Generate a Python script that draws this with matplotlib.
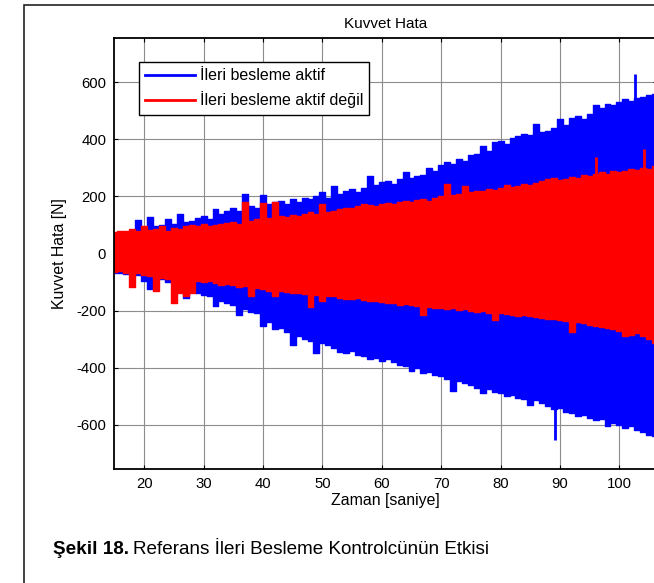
import matplotlib
matplotlib.use("Agg")
import matplotlib.pyplot as plt
from matplotlib.patches import Rectangle

plt.rcParams["font.family"] = ["Liberation Sans", "DejaVu Sans"]
plt.rcParams["axes.unicode_minus"] = False

# time axis [s], one envelope sample per second
zaman = list(range(15, 107))

# "İleri besleme aktif" envelope (upper / lower peaks) [N]
aktif_ust = [72, 75, 70, 80, 118, 85, 128, 95, 100, 120, 105, 138, 110, 115, 125, 130,
             120, 155, 140, 150, 160, 150, 210, 165, 160, 205, 175, 180, 185, 175, 190,
             180, 195, 190, 200, 215, 195, 235, 210, 220, 225, 215, 230, 270, 240, 250,
             255, 245, 260, 285, 265, 270, 275, 300, 290, 310, 320, 315, 330, 325, 345,
             350, 375, 360, 390, 395, 385, 405, 410, 420, 415, 455, 425, 430, 440, 470,
             450, 475, 480, 470, 490, 520, 510, 525, 520, 530, 540, 535, 545, 550, 555, 560]
aktif_alt = [-70, -68, -72, -65, -75, -95, -125, -85, -90, -100, -105, -95, -155, -130,
             -140, -145, -150, -185, -165, -175, -180, -215, -195, -205, -210, -255, -240,
             -265, -260, -275, -320, -290, -300, -305, -350, -315, -320, -330, -345, -350,
             -340, -355, -360, -370, -365, -375, -370, -380, -390, -395, -410, -400, -420,
             -415, -425, -430, -440, -480, -445, -455, -460, -470, -490, -475, -485, -490,
             -500, -495, -505, -510, -530, -515, -525, -535, -545, -540, -555, -560, -570,
             -565, -575, -585, -580, -605, -595, -600, -610, -605, -620, -625, -635, -640]

# "İleri besleme aktif değil" envelope (upper / lower peaks) [N]
pasif_ust = [75, 78, 80, 85, 78, 97, 82, 85, 95, 80, 90, 85, 95, 100, 95, 105, 98, 100,
             105, 108, 110, 105, 180, 115, 120, 178, 125, 180, 130, 128, 135, 130, 140,
             145, 138, 175, 145, 150, 155, 160, 158, 165, 175, 170, 168, 175, 178, 172,
             180, 185, 182, 188, 190, 185, 195, 200, 245, 205, 210, 235, 215, 220, 218,
             225, 222, 230, 240, 232, 238, 245, 240, 248, 255, 260, 265, 258, 262, 268,
             265, 275, 270, 280, 285, 280, 290, 285, 290, 295, 292, 300, 295, 305]
pasif_alt = [-65, -62, -70, -117, -68, -75, -80, -130, -85, -88, -175, -140, -150, -140,
             -95, -100, -98, -105, -110, -108, -112, -118, -115, -150, -120, -125, -130,
             -150, -132, -135, -140, -138, -142, -186, -145, -165, -150, -148, -155, -158,
             -160, -155, -162, -165, -168, -170, -175, -172, -180, -178, -182, -185, -215,
             -188, -190, -192, -195, -190, -198, -195, -200, -205, -202, -208, -233, -210,
             -212, -215, -218, -215, -220, -222, -225, -228, -230, -232, -235, -274, -240,
             -245, -250, -255, -258, -262, -265, -270, -290, -285, -280, -290, -300, -315]

# isolated single peaks: (time, value)
aktif_tepe_t = [102.7, 89.1]
aktif_tepe_v = [629, -653]
pasif_tepe_t = [96.1, 104.2]
pasif_tepe_v = [338, 367]

x_ticks = [20, 30, 40, 50, 60, 70, 80, 90, 100]
y_ticks = [-600, -400, -200, 0, 200, 400, 600]

W, H = 654, 583
fig = plt.figure(figsize=(W / 100, H / 100), dpi=100)

# outer figure frame
fig.patches.append(Rectangle((24 / W, -0.05), 1.1, 1 - 5 / H + 0.05, transform=fig.transFigure,
                             fill=False, edgecolor="#222222", linewidth=1.2))

ax_left, ax_right = 114.5, 657.0
ax_top, ax_bot = 38.0, 469.0
ax = fig.add_axes([ax_left / W, 1 - ax_bot / H, (ax_right - ax_left) / W, (ax_bot - ax_top) / H])

blue = "#0000ff"
red = "#ff0000"
ax.fill_between(zaman, aktif_alt, aktif_ust, step="mid", color=blue, linewidth=1.0,
                edgecolor=blue, zorder=3)
ax.vlines(aktif_tepe_t, 0, aktif_tepe_v, color=blue, linewidth=2.0, zorder=3)
ax.fill_between(zaman, pasif_alt, pasif_ust, step="mid", color=red, linewidth=1.0,
                edgecolor=red, zorder=4)
ax.vlines(pasif_tepe_t, 0, pasif_tepe_v, color=red, linewidth=2.0, zorder=4)

ax.plot([], [], color=blue, linewidth=2, label="İleri besleme aktif")
ax.plot([], [], color=red, linewidth=2, label="İleri besleme aktif değil")

ax.set_xticks(x_ticks)
ax.set_yticks(y_ticks)
ax.set_xlim(15, 15 + (ax_right - ax_left) / 5.94)
ax.set_ylim(-755, 755)
ax.grid(True, color="#8c8c8c", linewidth=0.8, zorder=1)
ax.set_axisbelow(True)
ax.tick_params(direction="in", length=3, width=0.8, labelsize=10.7, top=True, right=True,
               pad=6)
for s in ax.spines.values():
    s.set_linewidth(1.3)
    s.set_zorder(6)

ax.set_title("Kuvvet Hata", fontsize=11, pad=7)
ax.set_xlabel("Zaman [saniye]", fontsize=11.4, labelpad=1)
ax.set_ylabel("Kuvvet Hata [N]", fontsize=11.4, labelpad=7)

leg = ax.legend(loc="upper left", bbox_to_anchor=((139 - ax_left) / (ax_right - ax_left),
                (ax_bot - 62) / (ax_bot - ax_top)),
                fontsize=11.5, frameon=True, fancybox=False, shadow=False, framealpha=1,
                handlelength=3.1, handletextpad=0.3, borderpad=0.4, labelspacing=0.5,
                borderaxespad=0)
leg.get_frame().set_edgecolor("black")
leg.get_frame().set_linewidth(1.0)
leg.set_zorder(10)

# caption: bold figure number followed by regular text
cap_y = 1 - 549 / H
t1 = fig.text(53 / W, cap_y, "Şekil 18.", fontsize=13.6, fontweight="bold",
              va="center", ha="left")
fig.canvas.draw()
bb = t1.get_window_extent()
fig.text((bb.x1 + 4) / W, cap_y, "Referans İleri Besleme Kontrolcünün Etkisi", fontsize=13.6,
         va="center", ha="left")

fig.savefig("out.png", dpi=100)
